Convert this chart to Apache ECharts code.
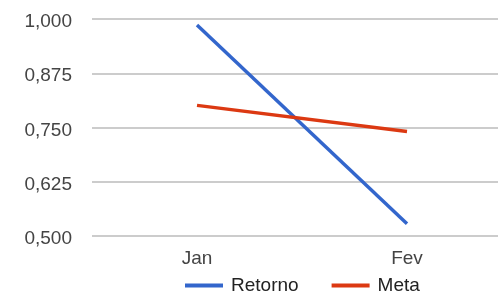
<!DOCTYPE html>
<html>
<head>
<meta charset="utf-8">
<script src="https://cdn.jsdelivr.net/npm/echarts@6/dist/echarts.min.js"></script>
<style>
  html, body { margin: 0; padding: 0; background: #fff; }
  #chart { width: 498px; height: 294px; }
</style>
</head>
<body>
<div id="chart"></div>
<script>
const categories = ['Jan', 'Fev']
const retorno = [0.986, 0.528]
const meta = [0.801, 0.741]
const yTicks = [0.5, 0.625, 0.75, 0.875, 1.0]

const chart = echarts.init(document.getElementById('chart'))

const fontFamily = 'Arial, "Liberation Sans", sans-serif'

const option = {
  animation: false,
  grid: {
    left: 92,
    width: 420,
    top: 19,
    height: 217,
    outerBoundsMode: 'none'
  },
  legend: {
    data: ['Retorno', 'Meta'],
    left: 185,
    top: 276,
    padding: 0,
    itemWidth: 38,
    itemHeight: 4,
    itemGap: 33,
    icon: 'rect',
    textStyle: { fontFamily: fontFamily, fontSize: 19, color: '#222', padding: [0, 0, 0, 3] }
  },
  xAxis: {
    type: 'category',
    data: categories,
    boundaryGap: true,
    axisLine: { show: false },
    axisTick: { show: false },
    axisLabel: { margin: 13, fontFamily: fontFamily, fontSize: 19, color: '#444' }
  },
  yAxis: {
    type: 'value',
    min: yTicks[0],
    max: yTicks[yTicks.length - 1],
    interval: 0.125,
    axisLine: { show: false },
    axisTick: { show: false },
    splitLine: { lineStyle: { color: '#cccccc', width: 2 } },
    axisLabel: {
      margin: 20,
      fontFamily: fontFamily,
      fontSize: 19,
      color: '#444',
      formatter: v => '{a|' + v.toFixed(3).replace('.', ',') + '}',
      rich: {
        a: { fontFamily: fontFamily, fontSize: 19, color: '#444', padding: [6, 0, 0, 0] }
      }
    }
  },
  series: [
    {
      name: 'Retorno',
      type: 'line',
      data: retorno,
      showSymbol: false,
      symbol: 'none',
      itemStyle: { color: '#3366cc' },
      lineStyle: { color: '#3366cc', width: 3.5 }
    },
    {
      name: 'Meta',
      type: 'line',
      data: meta,
      showSymbol: false,
      symbol: 'none',
      itemStyle: { color: '#dc3912' },
      lineStyle: { color: '#dc3912', width: 3.5 }
    }
  ]
}

chart.setOption(option)
</script>
</body>
</html>
